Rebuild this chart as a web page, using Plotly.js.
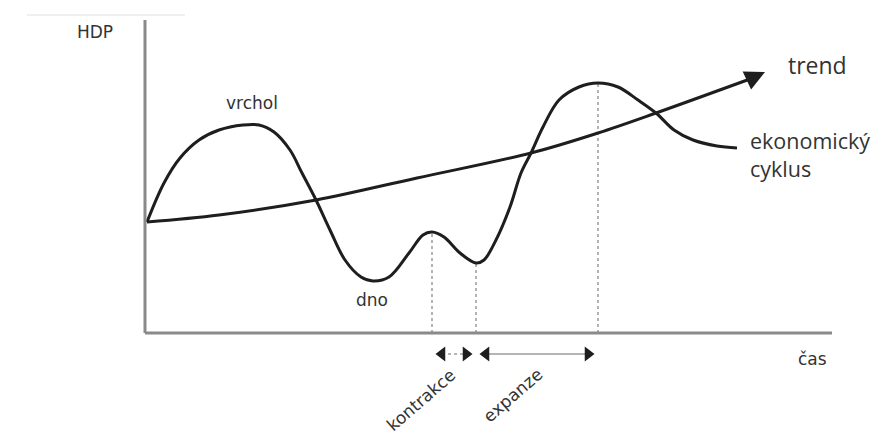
<!DOCTYPE html>
<html>
<head>
<meta charset="utf-8">
<script src="https://cdn.plot.ly/plotly-3.0.1.min.js"></script>
<style>html,body{margin:0;padding:0;background:#fff;}#chart{width:893px;height:441px;}</style>
</head>
<body>
<div id="chart"></div>
<script>
// Schematic economic cycle (time vs. GDP), units
var cycleTime = [0, 17, 33, 52, 72, 96, 112, 127, 143, 155, 169, 183, 198, 214, 226, 242, 262, 276, 285, 297, 313, 329, 337, 349, 363, 374, 384, 396, 412, 432, 451, 471, 491, 509, 527, 546, 570, 590];
var cycleHDP  = [111, 150, 175, 193, 203, 208, 208, 201, 183, 160, 133, 103, 73, 56, 52, 56, 80, 98, 101, 96, 80, 70, 73, 93, 126, 160, 180, 206, 233, 246, 250, 246, 233, 220, 203, 193, 187, 185];
var trendTime = [0, 72, 169, 270, 384, 451, 509, 603];
var trendHDP  = [111, 118, 133, 155, 180, 200, 220, 254];
var trendTip  = [618, 261];
// turning points: local peak, local trough, main peak
var turnTime = [285, 329, 451];
var turnHDP  = [101, 70, 250];
// phases: [start, end]
var phaseNames = ["kontrakce", "expanze"];
var phaseStart = [285, 329];
var phaseEnd   = [329, 451];
var axisTimeEnd = 685;
var axisHDPEnd = 313;

var ink = '#1e1e1e';
var txt = '#333333';
var axisCol = '#8a8a8a';

var traces = [];
for (var i = 0; i < turnTime.length; i++) {
  traces.push({x: [turnTime[i], turnTime[i]], y: [0, turnHDP[i]], mode: 'lines',
    line: {color: '#9a9a9a', width: 1.5, dash: 'dot'}, hoverinfo: 'skip'});
}
traces.push({x: trendTime, y: trendHDP, mode: 'lines', line: {color: ink, width: 3, shape: 'spline', smoothing: 1}, hoverinfo: 'skip'});
traces.push({x: cycleTime, y: cycleHDP, mode: 'lines', line: {color: ink, width: 3, shape: 'spline', smoothing: 1}, hoverinfo: 'skip'});

var arrowY = -21;
var inset = 4, headHalf = 6;
for (var p = 0; p < phaseStart.length; p++) {
  var a = phaseStart[p] + inset, b = phaseEnd[p] - inset;
  traces.push({x: [a + headHalf, b - headHalf], y: [arrowY, arrowY], mode: 'lines',
    line: {color: '#b5b5b5', width: 2, dash: p === 0 ? 'dot' : 'solid'}, hoverinfo: 'skip'});
  traces.push({x: [a + headHalf, b - headHalf], y: [arrowY, arrowY], mode: 'markers',
    marker: {symbol: ['triangle-left', 'triangle-right'], size: 13, color: ink}, hoverinfo: 'skip'});
}

var fS = {family: 'DejaVu Sans', size: 17, color: txt};
var annotations = [
  {x: -52, y: 301, text: 'HDP', showarrow: false, font: fS},
  {x: 105, y: 230, text: 'vrchol', showarrow: false, font: fS},
  {x: 225, y: 33, text: 'dno', showarrow: false, font: fS},
  {x: 670, y: 268, text: 'trend', showarrow: false, font: {family: 'Open Sans', size: 23, color: txt}},
  {x: 601, y: 179, text: 'ekonomický<br>cyklus', showarrow: false, xanchor: 'left', align: 'left', font: {family: 'Open Sans', size: 21.5, color: txt}},
  {x: 665, y: -26, text: 'čas', showarrow: false, font: fS},
  {x: 274, y: -67, text: phaseNames[0], showarrow: false, textangle: -41, font: fS},
  {x: 366, y: -62, text: phaseNames[1], showarrow: false, textangle: -41, font: fS},
  {x: trendTip[0], y: trendTip[1], ax: trendTime[trendTime.length - 1], ay: trendHDP[trendHDP.length - 1],
   axref: 'x', ayref: 'y', xref: 'x', yref: 'y', text: '', showarrow: true,
   arrowhead: 2, arrowsize: 1.6, arrowwidth: 2.5, arrowcolor: ink, standoff: 0}
];

var shapes = [
  {type: 'line', x0: -2, x1: -2, y0: 0, y1: axisHDPEnd, line: {color: axisCol, width: 3}},
  {type: 'line', x0: -2, x1: axisTimeEnd, y0: 0, y1: 0, line: {color: axisCol, width: 3}},
  {type: 'line', x0: -120, x1: 38, y0: 318, y1: 318, line: {color: '#efefef', width: 2}}
];

var layout = {
  width: 893, height: 441,
  margin: {l: 0, r: 0, t: 0, b: 0},
  paper_bgcolor: '#fff', plot_bgcolor: '#fff',
  showlegend: false,
  xaxis: {range: [-147, 746], visible: false, fixedrange: true},
  yaxis: {range: [-108, 333], visible: false, fixedrange: true},
  annotations: annotations,
  shapes: shapes
};

Plotly.newPlot('chart', traces, layout, {displayModeBar: false, staticPlot: true});
</script>
</body>
</html>
